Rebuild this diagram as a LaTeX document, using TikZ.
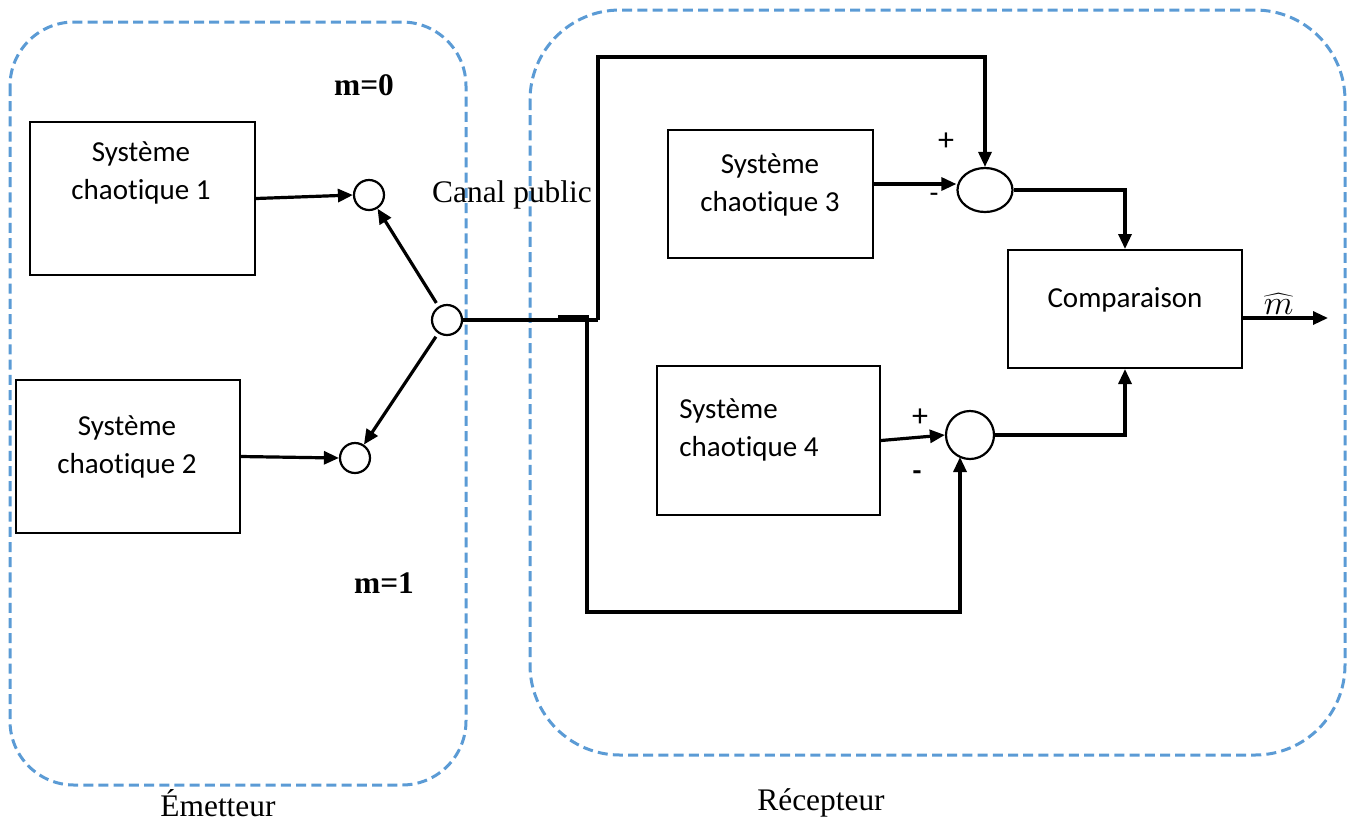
\documentclass[tikz,border=0pt]{standalone}
\usepackage{fontspec}
\setmainfont{Liberation Serif}
\newfontfamily\boxfont[Ligatures=NoCommon]{Carlito}
\usetikzlibrary{arrows.meta,shapes.geometric}
\definecolor{zonecol}{RGB}{91,155,213}
\begin{document}
\begin{tikzpicture}[x=0.5pt,y=-0.5pt,line cap=butt,line join=miter,>={Triangle[length=7.5pt,width=6.5pt]}]
	\tikzset{zone/.style={draw=zonecol,line width=1.5pt,dash pattern=on 5pt off 2.6pt},
		bloc/.style={draw,line width=1pt,inner sep=0pt},
		btxt/.style={font=\boxfont\fontsize{14.5}{19}\selectfont,align=center,inner sep=0pt},
		ttxt/.style={font=\fontsize{15.7}{19}\selectfont,inner sep=0pt},
		noeud/.style={draw,circle,line width=1.1pt,inner sep=0pt},
		fil/.style={line width=1.6pt}}
	\useasboundingbox (0,0) rectangle (1355,821);
	% zones
	\draw[zone,rounded corners=32pt] (10,22) rectangle (466,785);
	\draw[zone,rounded corners=45pt] (530,10) rectangle (1345,755);
	% blocs
	\node[bloc,minimum width=112.5pt,minimum height=76.5pt] (sys1) at (142.5,198.5) {};
	\node[bloc,minimum width=112pt,minimum height=76.5pt] (sys2) at (128,456.5) {};
	\node[bloc,minimum width=102.5pt,minimum height=64pt] (sys3) at (770.5,194) {};
	\node[bloc,minimum width=111.5pt,minimum height=74.5pt] (sys4) at (768.5,440.5) {};
	\node[bloc,minimum width=117pt,minimum height=59pt] (comp) at (1125,309) {};
	\node[btxt] (t1) at (141,173) {Système\\chaotique 1};
	\node[btxt] (t2) at (127,447) {Système\\chaotique 2};
	\node[btxt] (t3) at (770,185) {Système\\chaotique 3};
	\node[btxt,align=left,anchor=west] (t4) at (679,430) {Système\\\hspace*{0pt}chaotique 4};
	\node[btxt] (tc) at (1125,300) {Comparaison};
	% noeuds
	\node[noeud,minimum size=15pt] (c1) at (369,195) {};
	\node[noeud,minimum size=15pt] (c2) at (355,458) {};
	\node[noeud,minimum size=15pt] (sw) at (447,320) {};
	\node[draw,ellipse,line width=1.1pt,inner sep=0pt,minimum width=27.5pt,minimum height=22pt] (som1) at (985,190) {};
	\node[noeud,minimum size=24pt] (som2) at (970,435) {};
	% textes
	\node[ttxt,font=\fontsize{15.7}{19}\selectfont\bfseries] (m0) at (364,85) {m=0};
	\node[ttxt,font=\fontsize{15.7}{19}\selectfont\bfseries] (m1) at (384,583) {m=1};
	\node[ttxt] (canal) at (512,195) {Canal public};
	\node[ttxt] (emet) at (218,803) {Émetteur};
	\node[ttxt] (recep) at (821,803) {Récepteur};
	\node[btxt,font=\boxfont\fontsize{16}{19}\selectfont] (p1) at (946,142) {+};
	\node[btxt] (n1) at (934,198) {-};
	\node[btxt,font=\boxfont\fontsize{16}{19}\selectfont] (p2) at (920,418) {+};
	\node[btxt,font=\boxfont\bfseries\fontsize{14.5}{19}\selectfont] (n2) at (917,476) {-};
	% liaisons
	\coordinate (bif) at (598,320);
	\coordinate (haut) at (598,57);
	\coordinate (bifb) at (558,317);
	\coordinate (coin) at (587,317);
	\coordinate (bas) at (587,612);
	\coordinate (entb) at (960,457);
	\coordinate (sortie) at (1328,318);
	\draw[fil,->] (sys1.east) -- (c1.west);
	\draw[fil,->] (sys2.east) -- (c2.west);
	\draw[fil,->,shorten <=2pt] (sw) -- (c1);
	\draw[fil,->,shorten <=2pt] (sw) -- (c2);
	\draw[fil] (sw.east) -- (bif);
	\draw[fil,->] (bif) -- (haut) -| (som1.north);
	\draw[fil,->] (bifb) -- (coin) -- (bas) -| (entb);
	\draw[fil,->] ([yshift=5pt]sys3.east) -- ([yshift=3pt]som1.west);
	\draw[fil,->] (sys4.east) -- (som2.west);
	\draw[fil,->] (som1.east) -| (comp.north);
	\draw[fil,->] (som2.east) -| (comp.south);
	\draw[fil,->] ([yshift=-4.5pt]comp.east) -- (sortie) node[pos=0.42,above=1pt,inner sep=0pt,font=\fontsize{16}{18}\selectfont](mh){$\widehat{m}$};
\end{tikzpicture}
\end{document}
